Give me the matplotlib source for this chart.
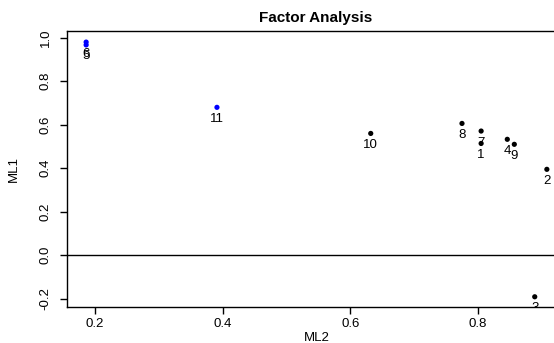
import matplotlib
matplotlib.use('Agg')
import matplotlib.pyplot as plt

plt.rcParams['font.family'] = ['Liberation Sans', 'DejaVu Sans']

# factor loadings
labels = ['1', '2', '3', '4', '5', '6', '7', '8', '9', '10', '11']
ml2 = [0.805, 0.908, 0.889, 0.846, 0.186, 0.186, 0.805, 0.775, 0.857, 0.632, 0.391]
ml1 = [0.513, 0.394, -0.192, 0.532, 0.966, 0.979, 0.570, 0.605, 0.509, 0.559, 0.679]
colors = ['black', 'black', 'black', 'black', 'blue', 'blue',
          'black', 'black', 'black', 'black', 'blue']

fig = plt.figure(figsize=(5.54, 3.43), dpi=100)
# axes runs a little past the right edge, as in the cropped original
ax = fig.add_axes([67 / 554, 1 - 307 / 343, (566 - 67) / 554, (307 - 31) / 343])

ax.scatter(ml2, ml1, c=colors, s=14, zorder=3, linewidths=0)
for x, y, lab in zip(ml2, ml1, labels):
    ax.annotate(lab, (x, y), xytext=(0, -4), textcoords='offset points',
                ha='center', va='top', fontsize=9.5, color='black',
                annotation_clip=False, clip_on=True)

ax.axhline(0, color='black', lw=1)
ax.axvline(0, color='black', lw=1)

ax.set_xlim(0.156, 0.938)
ax.set_ylim(-0.239, 1.03)
ax.set_xticks([0.2, 0.4, 0.6, 0.8])
ax.set_xticklabels(['0.2', '0.4', '0.6', '0.8'])
ax.set_yticks([-0.2, 0.0, 0.2, 0.4, 0.6, 0.8, 1.0])
ax.set_yticklabels(['-0.2', '0.0', '0.2', '0.4', '0.6', '0.8', '1.0'],
                   rotation=90, va='center')
ax.tick_params(direction='out', length=5, width=1, labelsize=9.5)
ax.tick_params(axis='x', pad=3)
ax.tick_params(axis='y', pad=6)
for sp in ax.spines.values():
    sp.set_linewidth(1)

ax.set_xlabel('ML2', fontsize=9.5, labelpad=1.5)
ax.set_ylabel('ML1', fontsize=9.5, labelpad=14)
fig.text(316 / 554, 1 - 18 / 343, 'Factor Analysis', ha='center', va='center',
         fontsize=11, fontweight='bold')

fig.savefig('out.png', dpi=100)
